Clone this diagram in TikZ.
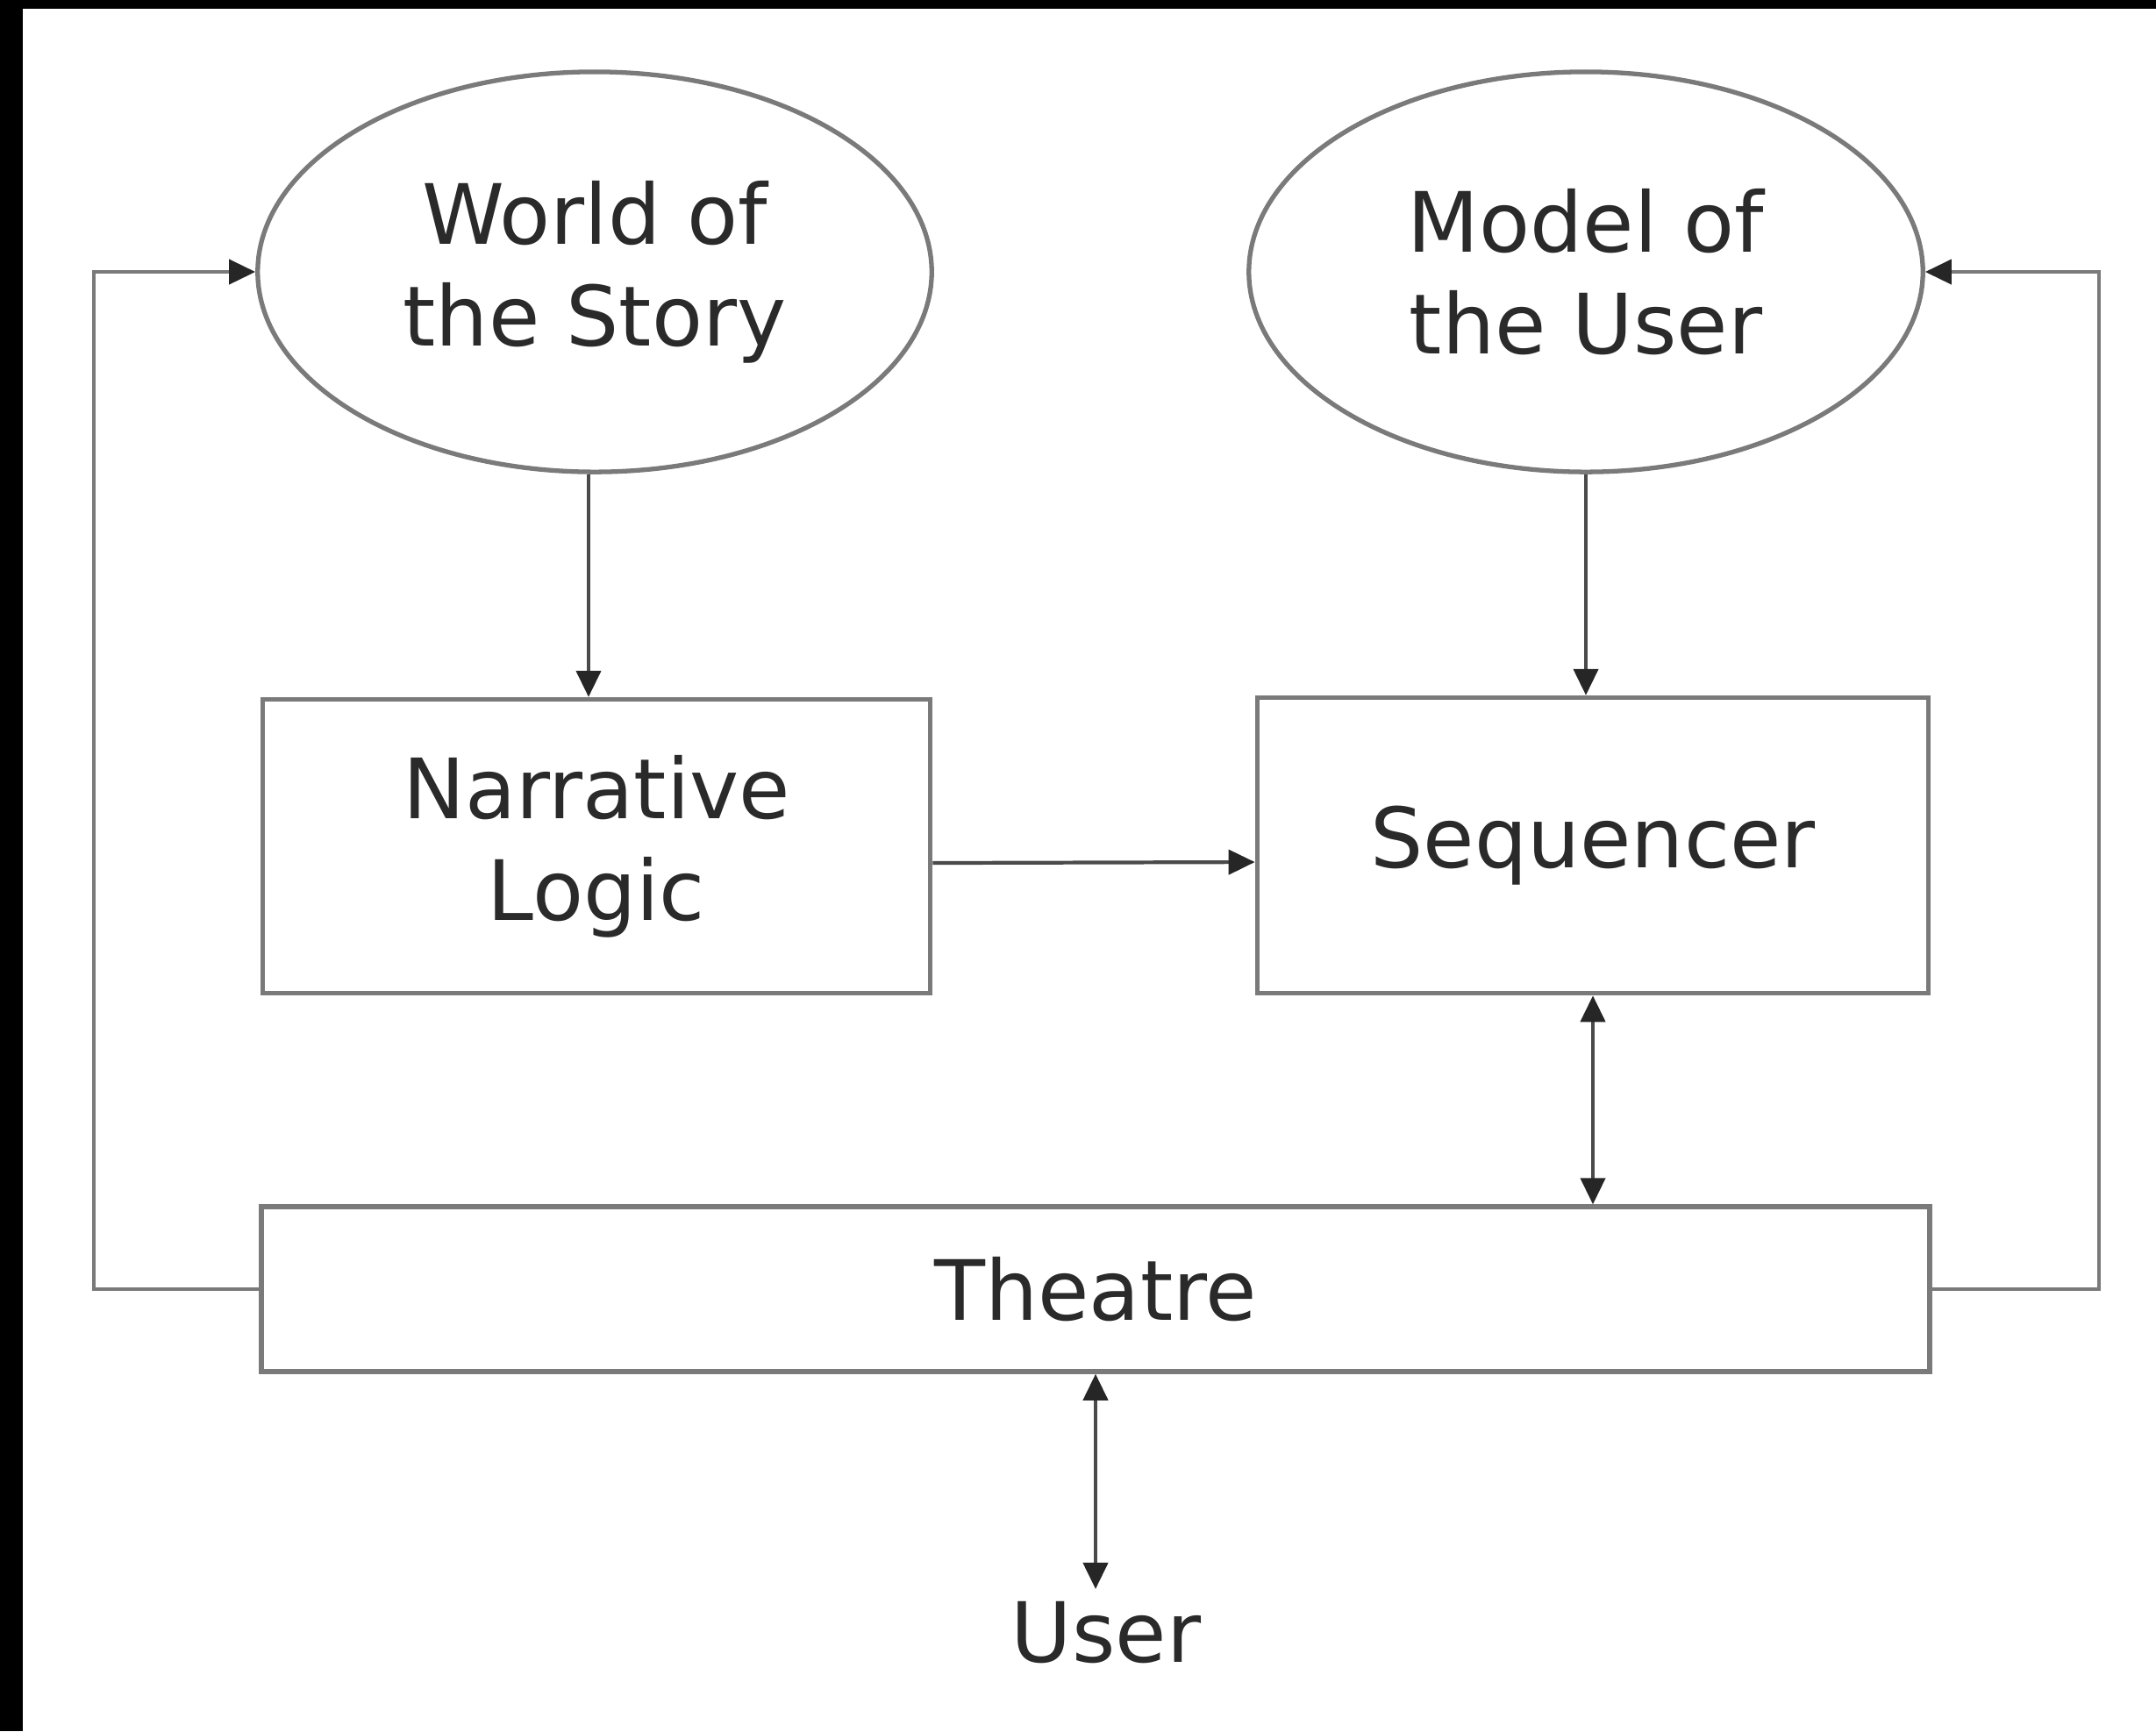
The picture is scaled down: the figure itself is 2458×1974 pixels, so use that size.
\documentclass[tikz,border=0pt]{standalone}
\usepackage{fontspec}
\setmainfont{DejaVu Sans}
\usetikzlibrary{arrows.meta,shapes.geometric,calc}
\definecolor{linegray}{HTML}{7A7A7A}
\definecolor{arrowgray}{HTML}{4A4A4A}
\definecolor{textgray}{HTML}{2A2A2A}

\begin{document}
\begin{tikzpicture}[x=0.01cm,y=-0.01cm,
  every node/.style={text=textgray,align=center,font=\fontsize{27}{33}\selectfont},
  blob/.style={ellipse,draw=linegray,line width=1.5pt,minimum width=7.68cm,minimum height=4.56cm,inner sep=0pt},
  box/.style={rectangle,draw=linegray,line width=1.5pt,inner sep=0pt},
  arr/.style={draw=arrowgray,line width=1.2pt},
  >={Triangle[length=0.3cm,width=0.28cm,color=black!85]}]

  \useasboundingbox (0,0) rectangle (2458,1974);
  \fill[black] (0,0) rectangle (2458,10);
  \fill[black] (0,0) rectangle (26,1974);

  \node[blob] (world) at (678,310) {World of\\the Story};
  \node[blob] (model) at (1808,310) {Model of\\the User};
  \node[box,minimum width=7.61cm,minimum height=3.35cm] (logic) at (680,965) {Narrative\\Logic};
  \node[box,minimum width=7.65cm,minimum height=3.37cm] (seq) at (1816,964) {Sequencer};
  \node[box,minimum width=19.01cm,minimum height=1.88cm] (theatre) at (1249,1470) {Theatre};
  \node[inner sep=4pt] (user) at (1261,1862) {User};

  \draw[arr,->] ([xshift=-0.07cm]world.south) -- ([xshift=-0.07cm]world.south |- logic.north);
  \draw[arr,->] (model.south) -- (model.south |- seq.north);
  \draw[arr,->] ([yshift=-0.19cm]logic.east) -- ([yshift=-0.19cm]seq.west);
  \draw[arr,<->] (seq.south) -- (seq.south |- theatre.north);
  \draw[arr,<->] (theatre.south) -- (theatre.south |- user.north);

  % feedback loops from the theatre
  \draw[arr,->,draw=linegray] (theatre.west) -- ++(-188,0) |- (world.west);
  \draw[arr,->,draw=linegray] (theatre.east) -- ++(190,0) |- (model.east);
\end{tikzpicture}
\end{document}
